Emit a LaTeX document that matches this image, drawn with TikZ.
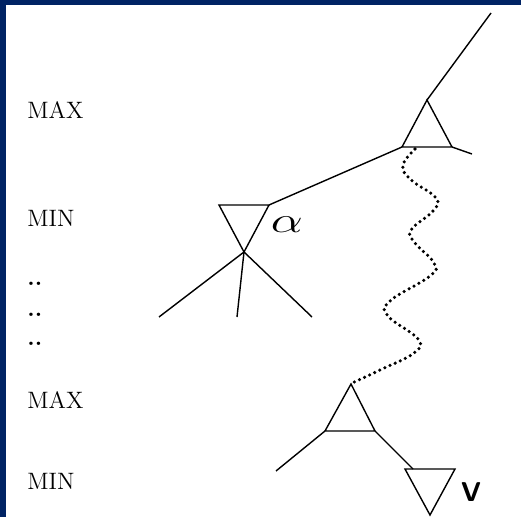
\documentclass[tikz,border=0pt]{standalone}
\usepackage{tikz}
\definecolor{slideblue}{RGB}{0,35,100}
\begin{document}
\begin{tikzpicture}[x=0.02cm,y=-0.02cm,
  every node/.style={font=\fontsize{13.5}{15}\selectfont,inner sep=0pt},
  level/.style={anchor=base west},
  edge/.style={line width=0.8pt},
  tri/.style={line width=0.8pt,line join=miter},
  wiggle/.style={line width=2pt,line cap=round,dash pattern=on 0pt off 3.2pt}
]
% frame
\fill[slideblue] (0,0) rectangle (521,517);
\fill[white] (6,5) rectangle (521,517);
% level labels
\node[level] (maxA) at (27,119) {MAX};
\node[level] (minA) at (27,227) {MIN};
\node[level] (dotsA) at (27,285) {\textbf{..}};
\node[level] (dotsB) at (27,316) {\textbf{..}};
\node[level] (dotsC) at (27,345) {\textbf{..}};
\node[level] (maxB) at (27,408) {MAX};
\node[level] (minB) at (27,489) {MIN};
% upper max node
\coordinate (rootUp) at (491,13);
\coordinate (maxTop) at (427,100);
\coordinate (maxL) at (402,147);
\coordinate (maxR) at (452,147);
\coordinate (maxStub) at (472,154);
\draw[tri] (maxTop) -- (maxL) -- (maxR) -- cycle;
\draw[edge] (maxTop) -- (rootUp);
\draw[edge] (maxR) -- (maxStub);
% min node alpha
\coordinate (minL) at (219,205);
\coordinate (minR) at (269,205);
\coordinate (minBot) at (244,252);
\draw[tri] (minL) -- (minR) -- (minBot) -- cycle;
\draw[edge] (maxL) -- (minR);
\node[font=\fontsize{22}{22}\selectfont,xscale=1.4] (alpha) at (287,225) {$\alpha$};
\coordinate (leafA) at (159,317);
\coordinate (leafB) at (237,317);
\coordinate (leafC) at (312,317);
\foreach \leaf in {leafA,leafB,leafC}
  \draw[edge] (minBot) -- (\leaf);
% lower max node
\coordinate (lowTop) at (351,384);
\coordinate (lowL) at (325,431);
\coordinate (lowR) at (375,431);
\coordinate (lowLeaf) at (276,471);
\draw[tri] (lowTop) -- (lowL) -- (lowR) -- cycle;
\draw[edge] (lowL) -- (lowLeaf);
% path down to it
\draw[wiggle] plot[smooth,tension=0.7] coordinates {(415,149) (403,165) (410,179) (436,198) (433,211) (411,230) (415,243) (434,263) (430,276) (390,301) (388,316) (418,339) (414,353) (380,370) (352,383)};
% min node v
\coordinate (vL) at (405,469);
\coordinate (vR) at (455,469);
\coordinate (vBot) at (430,515);
\draw[tri] (vL) -- (vR) -- (vBot) -- cycle;
\draw[edge] (lowR) -- (413,469);
\node[font=\fontsize{15.5}{16}\selectfont\sffamily\bfseries] (vname) at (471,492) {V};
\end{tikzpicture}
\end{document}
